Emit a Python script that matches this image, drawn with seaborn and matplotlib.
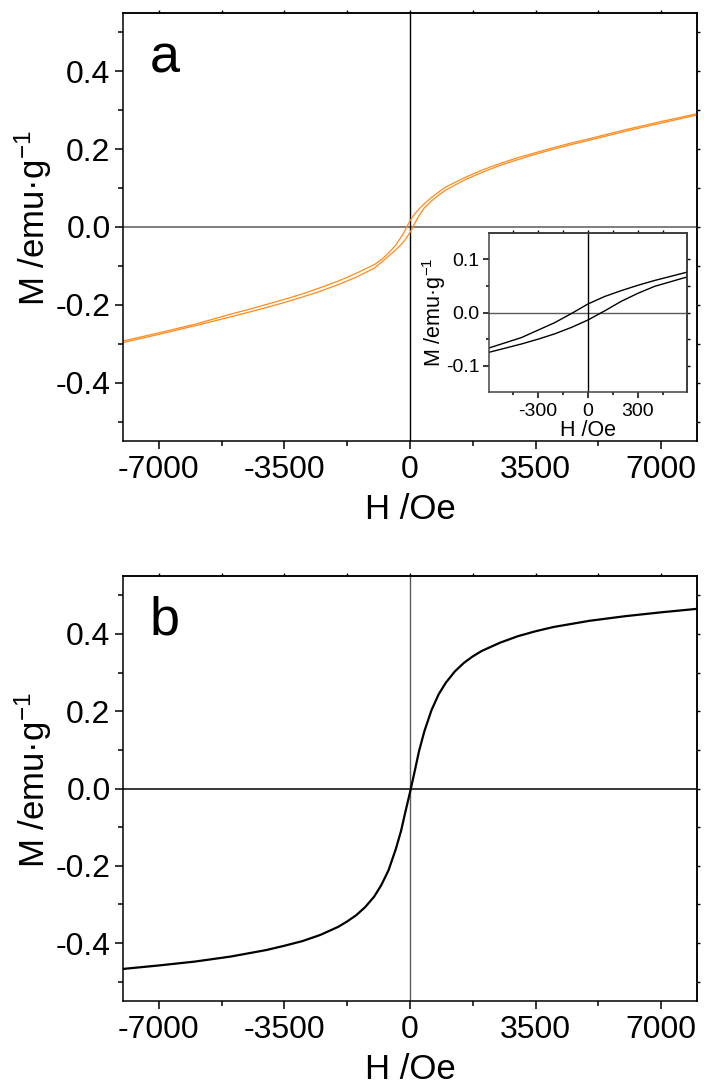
import matplotlib
matplotlib.use("Agg")
import numpy as np
import pandas as pd
import matplotlib.pyplot as plt
import seaborn as sns
from matplotlib.ticker import MultipleLocator, FormatStrFormatter

# Hysteresis loop of sample a: field H (Oe) and magnetisation M (emu/g)
H_loop = [-8000, -7000, -6000, -5000, -4500, -4000, -3500, -3000, -2500, -2000,
          -1500, -1000, -800, -600, -400, -300, -200, -100, 0, 100, 200, 300,
          400, 600, 800, 1000, 1500, 2000, 2500, 3000, 3500, 4000, 4500, 5000,
          6000, 7000, 8000]
# branch measured with decreasing field
M_desc = [-0.293, -0.272, -0.250, -0.224, -0.212, -0.199, -0.186, -0.172, -0.156,
          -0.139, -0.119, -0.097, -0.084, -0.067, -0.047, -0.033, -0.019, -0.002,
          0.016, 0.030, 0.041, 0.051, 0.060, 0.076, 0.090, 0.103, 0.126, 0.146,
          0.163, 0.178, 0.191, 0.204, 0.216, 0.227, 0.250, 0.271, 0.291]
# branch measured with increasing field
M_asc = [-0.297, -0.276, -0.254, -0.231, -0.219, -0.207, -0.194, -0.180, -0.165,
         -0.148, -0.129, -0.106, -0.091, -0.075, -0.059, -0.050, -0.040, -0.028,
         -0.014, 0.003, 0.021, 0.036, 0.049, 0.067, 0.082, 0.095, 0.120, 0.140,
         0.158, 0.173, 0.187, 0.200, 0.212, 0.223, 0.246, 0.267, 0.288]

# Magnetisation curve of sample b
H_b = [-8000, -7000, -6000, -5000, -4000, -3500, -3000, -2500, -2000, -1750,
       -1500, -1250, -1000, -800, -600, -400, -250, -125, 0, 125, 250, 400, 600,
       800, 1000, 1250, 1500, 1750, 2000, 2500, 3000, 3500, 4000, 5000, 6000,
       7000, 8000]
M_b = [-0.467, -0.458, -0.448, -0.435, -0.418, -0.407, -0.395, -0.379, -0.358,
       -0.344, -0.328, -0.307, -0.280, -0.250, -0.212, -0.158, -0.110, -0.059,
       -0.010, 0.042, 0.096, 0.148, 0.203, 0.244, 0.274, 0.303, 0.325, 0.342,
       0.356, 0.377, 0.394, 0.407, 0.418, 0.434, 0.446, 0.456, 0.465]

loop = pd.concat([
    pd.DataFrame({"H": H_loop[::-1], "M": M_desc[::-1], "branch": "desc"}),
    pd.DataFrame({"H": H_loop, "M": M_asc, "branch": "asc"}),
], ignore_index=True)
curve_b = pd.DataFrame({"H": H_b, "M": M_b})

sns.set_theme(style="ticks")
plt.rcParams.update({
    "font.family": ["Liberation Sans", "DejaVu Sans"],
    "axes.unicode_minus": False,
    "mathtext.fontset": "custom",
    "mathtext.rm": "Liberation Sans",
    "mathtext.it": "Liberation Sans:italic",
    "mathtext.bf": "Liberation Sans:bold",
    "axes.linewidth": 1.1,
    "axes.edgecolor": "black",
    "text.color": "black",
    "axes.labelcolor": "black",
    "xtick.color": "black",
    "ytick.color": "black",
    "xtick.labelcolor": "black",
    "ytick.labelcolor": "black",
})

W, Hpx = 704, 1085
fig = plt.figure(figsize=(W / 100, Hpx / 100), dpi=100)
fig.patch.set_facecolor("white")


def box(l, t, r, b):
    return [l / W, 1 - b / Hpx, (r - l) / W, (b - t) / Hpx]


ax_a = fig.add_axes(box(123, 13, 697, 441))
ax_b = fig.add_axes(box(123, 576, 697, 1001))
ax_in = fig.add_axes(box(489, 233, 687, 392))

ORANGE = "#ff8a1c"
YLABEL = "M /emu\u00b7g$^{-1}$"


def style_axes(ax, xlim, ylim, xmaj, xmin, ymaj, ymin, tick_size, label_size,
               maj_len, min_len, xpad, ypad, ylab_y=0.5):
    ax.set_xlim(*xlim)
    ax.set_ylim(*ylim)
    ax.xaxis.set_major_locator(MultipleLocator(xmaj))
    ax.xaxis.set_minor_locator(MultipleLocator(xmin))
    ax.yaxis.set_major_locator(MultipleLocator(ymaj))
    ax.yaxis.set_minor_locator(MultipleLocator(ymin))
    ax.xaxis.set_major_formatter(FormatStrFormatter("%d"))
    ax.yaxis.set_major_formatter(FormatStrFormatter("%.1f"))
    ax.tick_params(which="major", direction="out", length=maj_len, width=1.1,
                   labelsize=tick_size, pad=3)
    ax.tick_params(axis="x", which="major", pad=4)
    ax.tick_params(which="minor", direction="out", length=min_len, width=1.1)
    for s in ax.spines.values():
        s.set_visible(True)
    # small mirror ticks on the top and right edges
    top = ax.secondary_xaxis("top")
    top.xaxis.set_major_locator(MultipleLocator(xmin))
    top.tick_params(direction="out", length=2, width=1, labeltop=False)
    right = ax.secondary_yaxis("right")
    right.yaxis.set_major_locator(MultipleLocator(ymin))
    right.tick_params(direction="out", length=2, width=1, labelright=False)
    ax.set_xlabel("H /Oe", fontsize=label_size, labelpad=xpad)
    ax.set_ylabel(YLABEL, fontsize=label_size, labelpad=ypad)
    ax.yaxis.label.set_y(ylab_y)


# ---- panel a ----
ax_a.axhline(0, color="#5a5a5a", lw=1.1, zorder=1)
ax_a.axvline(0, color="black", lw=1.0, zorder=1)
sns.lineplot(data=loop, x="H", y="M", hue="branch", palette=[ORANGE, ORANGE],
             sort=False, estimator=None, legend=False, lw=0.9, ax=ax_a)
style_axes(ax_a, (-8000, 8000), (-0.55, 0.55), 3500, 1750, 0.2, 0.1,
           23, 25, 6, 3.5, 6, 1, 0.52)
ax_a.text(0.047, 0.862, "a", transform=ax_a.transAxes, fontsize=39,
          va="baseline", ha="left")

# ---- inset: low-field part of the loop ----
ax_in.set_facecolor("white")
ax_in.axhline(0, color="#5a5a5a", lw=1.0, zorder=1)
ax_in.axvline(0, color="black", lw=1.0, zorder=1)
sns.lineplot(data=loop, x="H", y="M", hue="branch", palette=["black", "black"],
             sort=False, estimator=None, legend=False, lw=1.0, ax=ax_in)
style_axes(ax_in, (-595, 595), (-0.149, 0.149), 300, 150, 0.1, 0.05,
           14, 15.5, 4, 2.5, 0, -2)
for s in ax_in.spines.values():
    s.set_color("#444444")

# ---- panel b ----
ax_b.axhline(0, color="black", lw=1.1, zorder=1)
ax_b.axvline(0, color="#5a5a5a", lw=1.0, zorder=1)
sns.lineplot(data=curve_b, x="H", y="M", color="black", sort=False,
             estimator=None, lw=1.6, ax=ax_b)
style_axes(ax_b, (-8000, 8000), (-0.55, 0.55), 3500, 1750, 0.2, 0.1,
           23, 25, 6, 3.5, 6, 1, 0.52)
ax_b.text(0.047, 0.862, "b", transform=ax_b.transAxes, fontsize=39,
          va="baseline", ha="left")

fig.savefig("out.png", dpi=100, facecolor="white")
